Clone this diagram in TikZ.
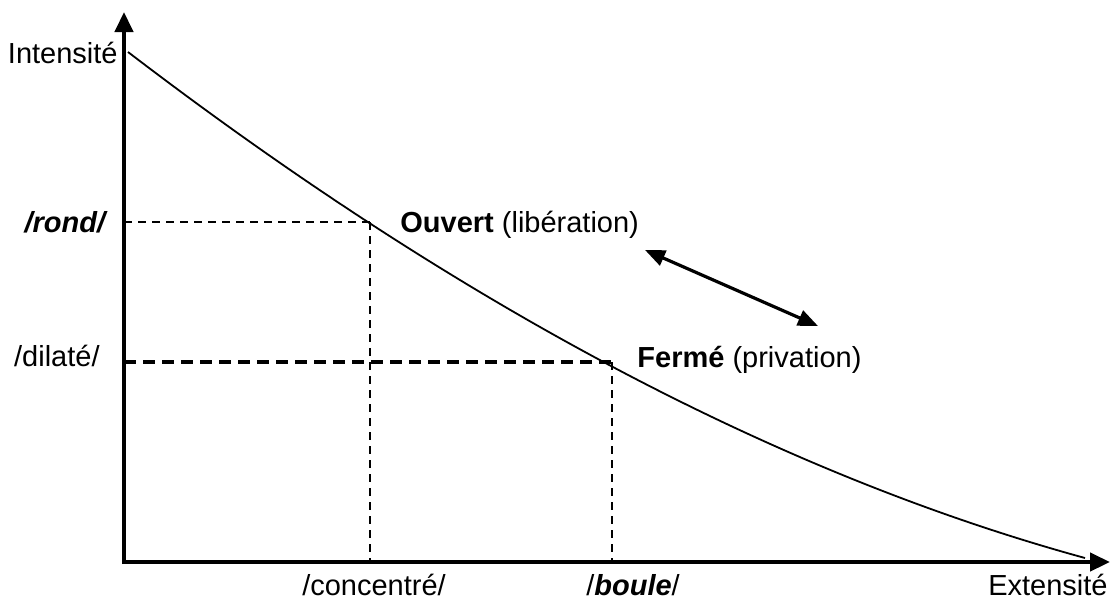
\documentclass[tikz,border=0pt]{standalone}
\usepackage{fontspec}
\setmainfont{Liberation Sans}
\usetikzlibrary{arrows.meta,positioning}
\tikzset{lab/.style={inner sep=0pt,font=\fontsize{14.5}{17}\selectfont},
axe/.style={line width=2.2pt,-{Triangle[length=10pt,width=9pt]}},
fin/.style={line width=1.1pt,dash pattern=on 4pt off 3pt},
gros/.style={line width=1.6pt,dash pattern=on 6pt off 3.5pt}}

\begin{document}
\begin{tikzpicture}[x=25pt,y=25pt,>=stealth]
        \useasboundingbox (-2.48,-0.8) rectangle (19.76,11.24);
        \coordinate (o) at (0,0);
        \coordinate (yt) at (0,11);
        \coordinate (xt) at (19.72,0);
        \coordinate (ya) at (0,6.8);
        \coordinate (yb) at (0,4.0);
        \coordinate (xa) at (4.92,0);
        \coordinate (xb) at (9.76,0);
        \coordinate (p) at (4.92,6.8);
        \coordinate (q) at (9.76,4.0);
        \coordinate (s) at (0.08,10.2);
        \coordinate (e) at (19.22,0.08);
        \coordinate (fa) at (10.42,6.24);
        \coordinate (fb) at (13.88,4.72);

        \node[lab,anchor=base east] (int)at (-0.12,9.98) {Intensité};
        \node[lab,anchor=base east] (ro)at (-0.32,6.6) {\textbf{\textit{/rond/}}};
        \node[lab,anchor=base east] (di)at (-0.48,3.92) {/dilaté/};
        \node[lab,anchor=base] (co)at (5.0,-0.66) {/concentré/};
        \node[lab,anchor=base] (bo)at (10.18,-0.66) {/\textbf{\textit{boule}}/};
        \node[lab,anchor=base east] (ext)at (19.68,-0.66) {Extensité};
        \node[lab,anchor=base west] (ouv)at (5.52,6.6) {\textbf{Ouvert} (libération)};
        \node[lab,anchor=base west] (fer)at (10.26,3.9) {\textbf{Fermé} (privation)};

        \draw [fin] (ya) to [] (p);
        \draw [fin] (p) to [] (xa);
        \draw [gros] (yb) to [] (q);
        \draw [fin] (q) to [] (xb);
        \draw [line width=0.9pt] (s) .. controls (6.71,5.13) and (13.09,1.76) .. (e);
        \draw [line width=1.6pt,{Triangle[length=10pt,width=8pt]}-{Triangle[length=10pt,width=8pt]}] (fa) to [] (fb);
        \draw [axe] (0,-0.04) to [] (yt);
        \draw [axe] (-0.04,0) to [] (xt);
    \end{tikzpicture}
\end{document}
